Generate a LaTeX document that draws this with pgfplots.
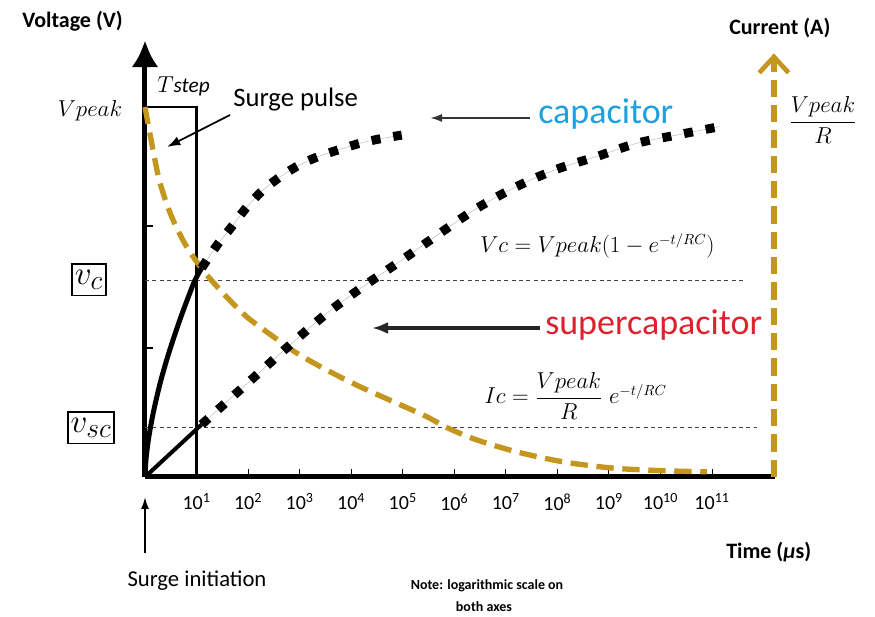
\documentclass[border=0pt]{standalone}
\usepackage{fontspec}
\setmainfont{Carlito}
\usepackage{amsmath}
\usepackage{pgfplots}
\pgfplotsset{compat=1.18}
\usetikzlibrary{arrows.meta}

\definecolor{currentgold}{RGB}{196,150,30}
\definecolor{capblue}{RGB}{30,160,220}
\definecolor{supred}{RGB}{220,35,45}

\tikzset{
  sqdots/.style={black, line width=6.75pt, dash pattern=on 6.75pt off 9.75pt, line cap=butt},
  guide/.style={gray!60, line width=0.3pt},
}

\begin{document}
\begin{tikzpicture}
\begin{axis}[
  at={(0,0)}, anchor=south west,
  x=38.6625pt, y=277.5pt,
  xmin=0, xmax=12.22, ymin=0, ymax=1.18,
  axis lines=left,
  axis line style={line width=3.75pt, black},
  x axis line style={-},
  y axis line style={-{Latex[length=20pt,width=20pt]}},
  clip=false,
  tick align=inside,
  major tick length=6pt,
  xtick={1,...,11},
  xticklabels={10\textsuperscript{1},10\textsuperscript{2},10\textsuperscript{3},10\textsuperscript{4},10\textsuperscript{5},10\textsuperscript{6},10\textsuperscript{7},10\textsuperscript{8},10\textsuperscript{9},10\textsuperscript{10},10\textsuperscript{11}},
  ytick={0.349,0.678}, yticklabels={},
  xtick style={line width=0.8pt, black},
  ytick style={line width=1.5pt, black},
  xticklabel style={font=\fontsize{15}{15}\selectfont, yshift=-9pt},
]
% reference levels reached at the end of the surge step
\addplot[black!75, line width=0.8pt, dash pattern=on 3pt off 2.5pt] coordinates {(0,0.532) (11.64,0.532)};
\addplot[black!75, line width=0.8pt, dash pattern=on 3pt off 2.5pt] coordinates {(0,0.133) (11.87,0.133)};
% surge pulse of width T_step
\addplot[black, line width=1.6pt] coordinates {(0,1) (1,1) (1,0)};
% charging current
\addplot[currentgold, line width=4pt, dash pattern=on 13pt off 6.5pt, smooth] coordinates {
  (0,1.0) (0.155,0.884) (0.291,0.795) (0.518,0.703) (0.809,0.622) (1.125,0.559)
  (1.513,0.497) (1.973,0.433) (2.483,0.380) (2.943,0.335) (3.525,0.289)
  (4.171,0.244) (4.811,0.204) (5.465,0.163) (5.88,0.132) (6.44,0.100)
  (7.21,0.068) (8.11,0.041) (9.08,0.024) (10.05,0.017) (10.9,0.014)};
% capacitor voltage
\addplot[black, line width=3.75pt, smooth] coordinates {
  (0,0) (0.02,0.048) (0.06,0.095) (0.12,0.145) (0.2,0.199) (0.3,0.257) (0.42,0.316)
  (0.55,0.373) (0.7,0.434) (0.85,0.490) (0.97,0.532) (1.1,0.565)};
\addplot[guide, smooth] coordinates {
  (1.1,0.565) (1.40,0.627) (1.68,0.676) (1.96,0.727) (2.28,0.774) (2.62,0.811)
  (2.99,0.843) (3.36,0.866) (3.77,0.885) (4.17,0.902) (4.56,0.914) (4.98,0.924)};
\addplot[sqdots, smooth] coordinates {
  (1.1,0.565) (1.40,0.627) (1.68,0.676) (1.96,0.727) (2.28,0.774) (2.62,0.811)
  (2.99,0.843) (3.36,0.866) (3.77,0.885) (4.17,0.902) (4.56,0.914) (4.98,0.924)};
% supercapacitor voltage
\addplot[black, line width=3pt] coordinates {(0,0) (1.1,0.142)};
\addplot[guide, smooth] coordinates {
  (1.1,0.142) (1.552,0.199) (2.167,0.276) (2.846,0.361) (3.525,0.442) (4.223,0.514)
  (4.98,0.586) (5.723,0.659) (6.435,0.726) (7.21,0.785) (7.99,0.832) (8.76,0.866)
  (9.54,0.902) (10.31,0.924) (11.15,0.947)};
\addplot[sqdots, smooth] coordinates {
  (1.1,0.142) (1.552,0.199) (2.167,0.276) (2.846,0.361) (3.525,0.442) (4.223,0.514)
  (4.98,0.586) (5.723,0.659) (6.435,0.726) (7.21,0.785) (7.99,0.832) (8.76,0.866)
  (9.54,0.902) (10.31,0.924) (11.15,0.947)};
% current axis
\draw[currentgold, line width=4pt, dash pattern=on 13pt off 6pt,
      -{Straight Barb[length=12pt,width=22pt,line width=3.5pt]}]
  (axis cs:12.2,0) -- (axis cs:12.2,1.145);
\end{axis}

\begin{scope}[x=0.75pt,y=-0.75pt,shift={(-145,-477)}]
  \node[anchor=base west, inner sep=0, font=\bfseries\fontsize{16.5}{16.5}\selectfont] at (22,28) {Voltage (V)};
  \node[anchor=base west, inner sep=0, font=\bfseries\fontsize{16.5}{16.5}\selectfont] at (729,35) {Current (A)};
  \node[anchor=base west, inner sep=0, font=\bfseries\fontsize{16.5}{16.5}\selectfont] at (726,559) {Time (\textit{μ}s)};

  \node[anchor=base, inner sep=0, font=\fontsize{18.5}{18.5}\selectfont] at (90,117) {$Vpeak$};
  \node[inner sep=0, font=\fontsize{18.5}{18.5}\selectfont] at (823,120) {$\dfrac{Vpeak}{R}$};

  \node[anchor=base west, inner sep=0, font=\fontsize{16}{16}\selectfont] at (157,93) {$T$\textit{step}};
  \node[anchor=base west, inner sep=0, font=\fontsize{20}{20}\selectfont] at (233,107) {Surge pulse};
  \draw[-{Latex[length=10pt,width=7pt]}, line width=1.3pt] (230,115) -- (167,147);

  \node[anchor=base west, inner sep=0, text=capblue, font=\fontsize{27}{27}\selectfont] at (538,124) {capacitor};
  \draw[-{Latex[length=9pt,width=6pt]}, line width=1.5pt, black!80] (530,118) -- (430,118);

  \node[anchor=base west, inner sep=0, text=supred, font=\fontsize{27}{27}\selectfont] at (545,335) {supercapacitor};
  \draw[-{Latex[length=12pt,width=9pt]}, line width=2.6pt, black!85] (540,328) -- (372,328);

  \node[anchor=base west, inner sep=0, font=\fontsize{16}{16}\selectfont] at (480,253) {$Vc = Vpeak(1 - e^{-t/RC})$};
  \node[anchor=west, inner sep=0, font=\fontsize{16}{16}\selectfont] at (484,396) {$Ic = \dfrac{Vpeak}{R}\;e^{-t/RC}$};

  \node[draw, line width=1.3pt, inner xsep=2pt, inner ysep=4.5pt, font=\fontsize{28}{28}\selectfont] at (89,280) {$v_c$};
  \node[draw, line width=1.3pt, inner xsep=2pt, inner ysep=4.5pt, font=\fontsize{28}{28}\selectfont] at (91,428) {$v_{sc}$};

  \draw[-{Latex[length=9pt,width=6pt]}, line width=1.3pt] (145,553) -- (145,497);
  \node[anchor=base, inner sep=0, font=\fontsize{17}{17}\selectfont] at (197,587) {Surge initiation};

  \node[anchor=base, inner sep=0, font=\bfseries\fontsize{10.5}{10.5}\selectfont] at (487,590) {Note: logarithmic scale on};
  \node[anchor=base, inner sep=0, font=\bfseries\fontsize{10.5}{10.5}\selectfont] at (484,612) {both axes};

  \pgfresetboundingbox
  \path[use as bounding box] (0,0) rectangle (875,617);
\end{scope}
\end{tikzpicture}
\end{document}
